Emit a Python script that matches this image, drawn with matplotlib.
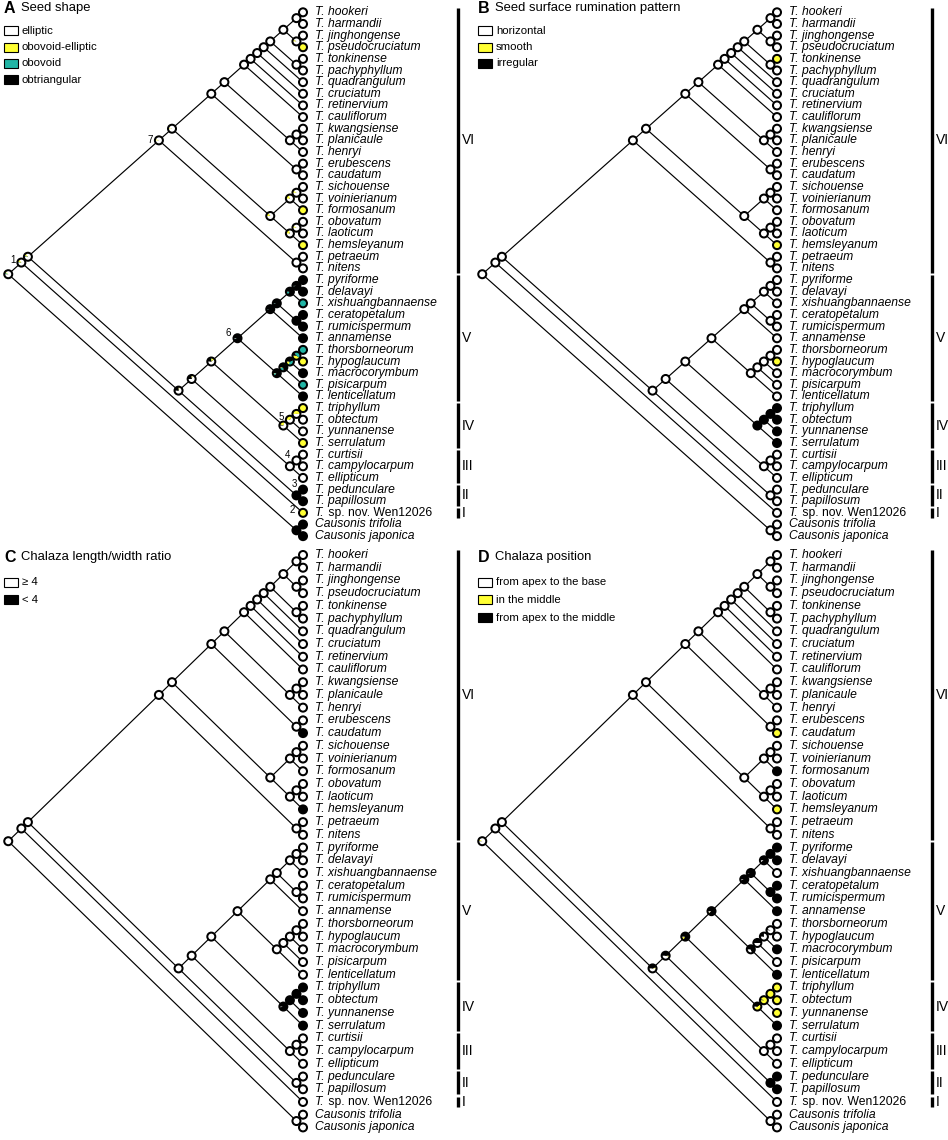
import matplotlib
matplotlib.use('Agg')
import matplotlib.pyplot as plt
from matplotlib.patches import Wedge, Circle, Rectangle
from matplotlib.transforms import ScaledTranslation

plt.rcParams['font.family'] = ['Liberation Sans', 'DejaVu Sans']

# tree topology (tips top to bottom), built up clade by clade
vi_core = (('hookeri', 'harmandii'), ('jinghongense', 'pseudocruciatum'))
vi_core = (vi_core, ('tonkinense', 'pachyphyllum'))
for sp in ['quadrangulum', 'cruciatum', 'retinervium', 'cauliflorum']:
    vi_core = (vi_core, sp)
vi_core = (vi_core, (('kwangsiense', 'planicaule'), 'henryi'))
vi_core = (vi_core, ('erubescens', 'caudatum'))
vi_core = (vi_core, ((('sichouense', 'voinierianum'), 'formosanum'),
                     (('obovatum', 'laoticum'), 'hemsleyanum')))
clade_VI = (vi_core, ('petraeum', 'nitens'))
v_upper = (((('pyriforme', 'delavayi'), 'xishuangbannaense'), ('ceratopetalum', 'rumicispermum')), 'annamense')
v_lower = (((('thorsborneorum', 'hypoglaucum'), 'macrocorymbum'), 'pisicarpum'), 'lenticellatum')
clade_V = (v_upper, v_lower)
clade_IV = ((('triphyllum', 'obtectum'), 'yunnanense'), 'serrulatum')
clade_III = (('curtisii', 'campylocarpum'), 'ellipticum')
clade_II = ('pedunculare', 'papillosum')
tree = (((clade_VI, (((clade_V, clade_IV), clade_III), clade_II)), 'wen'), ('trifolia', 'japonica'))

taxa = ['hookeri', 'harmandii', 'jinghongense', 'pseudocruciatum', 'tonkinense', 'pachyphyllum',
        'quadrangulum', 'cruciatum', 'retinervium', 'cauliflorum', 'kwangsiense', 'planicaule',
        'henryi', 'erubescens', 'caudatum', 'sichouense', 'voinierianum', 'formosanum', 'obovatum',
        'laoticum', 'hemsleyanum', 'petraeum', 'nitens', 'pyriforme', 'delavayi',
        'xishuangbannaense', 'ceratopetalum', 'rumicispermum', 'annamense', 'thorsborneorum',
        'hypoglaucum', 'macrocorymbum', 'pisicarpum', 'lenticellatum', 'triphyllum', 'obtectum',
        'yunnanense', 'serrulatum', 'curtisii', 'campylocarpum', 'ellipticum', 'pedunculare',
        'papillosum', 'wen', 'trifolia', 'japonica']
labels = ['T. ' + t for t in taxa[:43]] + ['T.', 'Causonis trifolia', 'Causonis japonica']
wen_suffix = ' sp. nov. Wen12026'   # upright part of the undescribed species label

clade_names = ['VI', 'V', 'IV', 'III', 'II', 'I']
clade_first = ['hookeri', 'pyriforme', 'triphyllum', 'curtisii', 'pedunculare', 'wen']
clade_last = ['nitens', 'lenticellatum', 'serrulatum', 'ellipticum', 'papillosum', 'wen']

yellow = '#FFFF33'
teal = '#21B5A5'

panel_letters = ['A', 'B', 'C', 'D']
panel_titles = ['Seed shape', 'Seed surface rumination pattern',
                'Chalaza length/width ratio', 'Chalaza position']
legend_A = ['elliptic', 'obovoid-elliptic', 'obovoid', 'obtriangular']
legend_B = ['horizontal', 'smooth', 'irregular']
legend_C = ['\u2265 4', '< 4']
legend_D = ['from apex to the base', 'in the middle', 'from apex to the middle']
colors_A = ['white', yellow, teal, 'black']
colors_B = ['white', yellow, 'black']
colors_C = ['white', 'black']
colors_D = ['white', yellow, 'black']

# tip states, same order as taxa
tips_A = [0, 0, 0, 1, 0, 0, 0, 0, 0, 0, 0, 0, 0, 0, 0, 0, 0, 1, 0, 0, 1, 0, 0,
          3, 3, 2, 3, 3, 3, 2, 1, 3, 2, 3,
          1, 0, 0, 1, 0, 0, 0, 3, 3, 1, 3, 3]
tips_B = [0, 0, 0, 0, 1, 0, 0, 0, 0, 0, 0, 0, 0, 0, 0, 0, 0, 0, 0, 0, 1, 0, 0,
          0, 0, 0, 0, 0, 0, 0, 1, 0, 0, 0,
          2, 2, 2, 2, 0, 0, 0, 0, 0, 0, 0, 0]
tips_C = [0, 0, 0, 0, 0, 0, 0, 0, 0, 0, 0, 0, 0, 0, 1, 0, 0, 0, 0, 0, 1, 0, 0,
          0, 0, 0, 0, 0, 0, 0, 0, 0, 0, 0,
          1, 1, 1, 1, 0, 0, 0, 0, 0, 0, 0, 0]
tips_D = [0, 0, 0, 0, 0, 0, 0, 0, 0, 0, 0, 0, 0, 0, 1, 0, 0, 2, 0, 0, 1, 0, 0,
          2, 2, 0, 2, 2, 2, 0, 0, 2, 0, 2,
          1, 1, 1, 2, 0, 0, 0, 2, 2, 0, 0, 0]

# ancestral state pies (nodes named by first and last tip); unlisted nodes are state 0
nodes_A = {
    ('hookeri', 'japonica'): [0.88, 0.06, 0.04, 0.02],
    ('hookeri', 'wen'): [0.85, 0.12, 0.02, 0.01],
    ('hookeri', 'papillosum'): [0.85, 0.10, 0.03, 0.02],
    ('hookeri', 'nitens'): [0.95, 0.05, 0, 0],
    ('hookeri', 'hemsleyanum'): [0.96, 0.04, 0, 0],
    ('sichouense', 'hemsleyanum'): [0.85, 0.15, 0, 0],
    ('sichouense', 'formosanum'): [0.8, 0.2, 0, 0],
    ('sichouense', 'voinierianum'): [0.9, 0.1, 0, 0],
    ('obovatum', 'hemsleyanum'): [0.8, 0.2, 0, 0],
    ('obovatum', 'laoticum'): [0.92, 0.08, 0, 0],
    ('jinghongense', 'pseudocruciatum'): [0.92, 0.08, 0, 0],
    ('pyriforme', 'papillosum'): [0.70, 0.05, 0, 0.25],
    ('pyriforme', 'ellipticum'): [0.70, 0.06, 0, 0.24],
    ('pyriforme', 'serrulatum'): [0.60, 0.15, 0.02, 0.23],
    ('pyriforme', 'lenticellatum'): [0.03, 0, 0.02, 0.95],
    ('pyriforme', 'annamense'): [0, 0, 0.02, 0.98],
    ('pyriforme', 'rumicispermum'): [0, 0, 0.03, 0.97],
    ('pyriforme', 'xishuangbannaense'): [0, 0, 0.15, 0.85],
    ('pyriforme', 'delavayi'): [0, 0, 0.03, 0.97],
    ('ceratopetalum', 'rumicispermum'): [0, 0, 0, 1],
    ('thorsborneorum', 'lenticellatum'): [0, 0.03, 0.10, 0.87],
    ('thorsborneorum', 'pisicarpum'): [0, 0.05, 0.20, 0.75],
    ('thorsborneorum', 'macrocorymbum'): [0, 0.20, 0.35, 0.45],
    ('thorsborneorum', 'hypoglaucum'): [0, 0.40, 0.45, 0.15],
    ('triphyllum', 'serrulatum'): [0.70, 0.25, 0, 0.05],
    ('triphyllum', 'yunnanense'): [0.65, 0.35, 0, 0],
    ('triphyllum', 'obtectum'): [0.5, 0.5, 0, 0],
    ('pedunculare', 'papillosum'): [0, 0, 0, 1],
    ('trifolia', 'japonica'): [0, 0, 0, 1],
}
nodes_B = {
    ('triphyllum', 'serrulatum'): [0, 0, 1],
    ('triphyllum', 'yunnanense'): [0, 0, 1],
    ('triphyllum', 'obtectum'): [0, 0, 1],
}
nodes_C = {
    ('triphyllum', 'serrulatum'): [0.04, 0.96],
    ('triphyllum', 'yunnanense'): [0, 1],
    ('triphyllum', 'obtectum'): [0, 1],
}
nodes_D = {
    ('hookeri', 'japonica'): [0.92, 0.06, 0.02],
    ('pyriforme', 'papillosum'): [0.50, 0.05, 0.45],
    ('pyriforme', 'ellipticum'): [0.45, 0.05, 0.50],
    ('pyriforme', 'serrulatum'): [0.05, 0.12, 0.83],
    ('pyriforme', 'lenticellatum'): [0.10, 0.02, 0.88],
    ('pyriforme', 'annamense'): [0.05, 0, 0.95],
    ('pyriforme', 'rumicispermum'): [0.02, 0, 0.98],
    ('pyriforme', 'xishuangbannaense'): [0.10, 0, 0.90],
    ('pyriforme', 'delavayi'): [0, 0, 1],
    ('ceratopetalum', 'rumicispermum'): [0, 0, 1],
    ('thorsborneorum', 'lenticellatum'): [0.30, 0, 0.70],
    ('thorsborneorum', 'pisicarpum'): [0.50, 0, 0.50],
    ('thorsborneorum', 'macrocorymbum'): [0.75, 0, 0.25],
    ('thorsborneorum', 'hypoglaucum'): [0.95, 0, 0.05],
    ('triphyllum', 'serrulatum'): [0.10, 0.50, 0.40],
    ('triphyllum', 'yunnanense'): [0, 0.95, 0.05],
    ('triphyllum', 'obtectum'): [0, 1, 0],
    ('pedunculare', 'papillosum'): [0, 0, 1],
}

node_numbers = ['1', '7', '6', '5', '4', '3', '2']
number_nodes = [('hookeri', 'wen'), ('hookeri', 'nitens'), ('pyriforme', 'lenticellatum'),
                ('triphyllum', 'serrulatum'), ('curtisii', 'ellipticum'),
                ('pedunculare', 'papillosum'), ('wen', 'wen')]
number_offsets = [(-6, 1.5), (-6.5, 0), (-6.5, 4), (-1.5, 6.5), (-1.5, 8), (-1.5, 8), (-7.5, 2)]


def tip_order(node):
    return [node] if isinstance(node, str) else [t for k in node for t in tip_order(k)]


order = tip_order(tree)
assert order == taxa, order
row = {t: i for i, t in enumerate(order)}

pos = {}
edges = []


def place(node):
    if isinstance(node, str):
        pos[(node, node)] = (0.0, float(row[node]))
        return (node, node)
    spans = [place(k) for k in node]
    key = (spans[0][0], spans[-1][1])
    top, bot = row[key[0]], row[key[1]]
    pos[key] = (-(bot - top) / 2.0, (top + bot) / 2.0)
    for s in spans:
        edges.append((key, s))
    return key


place(tree)

W, H = 948, 1140
fig = plt.figure(figsize=(W / 100, H / 100), dpi=100)

# px geometry: tips at x=303 in each half, 13.1 px per x unit
px_unit = 13.1
xlim = (-303 / px_unit, 171 / px_unit)
top_h, bot_h = 543, 597
panels = [
    dict(rect=(0, 0, 474, top_h), ylim=(45.59, -1.057), leg=legend_A, col=colors_A, tips=tips_A, nodes=nodes_A, sy=1.0),
    dict(rect=(474, 0, 474, top_h), ylim=(45.59, -1.057), leg=legend_B, col=colors_B, tips=tips_B, nodes=nodes_B, sy=1.0),
    dict(rect=(0, top_h, 474, bot_h), ylim=(45.99, -0.943), leg=legend_C, col=colors_C, tips=tips_C, nodes=nodes_C, sy=1.093),
    dict(rect=(474, top_h, 474, bot_h), ylim=(45.99, -0.943), leg=legend_D, col=colors_D, tips=tips_D, nodes=nodes_D, sy=1.093),
]


def draw_pie(ax, x, y, fracs, colors, r=0.04):
    tr = fig.dpi_scale_trans + ScaledTranslation(x, y, ax.transData)
    start = 180.0
    for f, c in zip(fracs, colors):
        if f <= 0:
            continue
        ax.add_patch(Wedge((0, 0), r, start, start + 360 * f, facecolor=c, edgecolor='none',
                           transform=tr, zorder=3, clip_on=False))
        start += 360 * f
    ax.add_patch(Circle((0, 0), r, facecolor='none', edgecolor='black', lw=1.45,
                        transform=tr, zorder=4, clip_on=False))


for i, p in enumerate(panels):
    x0, y0, w, h = p['rect']
    ax = fig.add_axes([x0 / W, 1 - (y0 + h) / H, w / W, h / H])
    ax.set_xlim(*xlim)
    ax.set_ylim(*p['ylim'])
    ax.axis('off')

    for parent, child in edges:
        (xa, ya), (xb, yb) = pos[parent], pos[child]
        ax.plot([xa, xb], [ya, yb], color='black', lw=0.85, zorder=1, solid_capstyle='round')

    ncol = len(p['col'])
    for key, (x, y) in pos.items():
        if key[0] == key[1]:
            fr = [0] * ncol
            fr[p['tips'][row[key[0]]]] = 1
        else:
            fr = p['nodes'].get(key, [1] + [0] * (ncol - 1))
        draw_pie(ax, x, y, fr, p['col'])

    for t, lab in zip(taxa, labels):
        txt = ax.annotate(lab, xy=(0, row[t]), xytext=(8.6, 0), textcoords='offset points',
                          ha='left', va='center', fontsize=8.7, style='italic')
        if t == 'wen':
            ax.annotate(wen_suffix, xy=(1, 0.5), xycoords=txt, ha='left', va='center',
                        fontsize=8.7)

    bar_x = 155 / px_unit
    for name, a, b in zip(clade_names, clade_first, clade_last):
        ax.plot([bar_x, bar_x], [row[a] - 0.4, row[b] + 0.4], color='black', lw=2.4,
                solid_capstyle='butt', zorder=2)
        ax.annotate(name, xy=(bar_x, (row[a] + row[b]) / 2), xytext=(2.5, 0),
                    textcoords='offset points', ha='left', va='center', fontsize=10)

    # title and legend (pixel offsets inside the panel)
    sy = p['sy']
    t_y = 8.5 if i < 2 else 14
    ax.text(4 / w, 1 - t_y / h, panel_letters[i], transform=ax.transAxes, fontsize=11.5,
            fontweight='bold', ha='left', va='center')
    ax.text(21 / w, 1 - t_y / h, panel_titles[i], transform=ax.transAxes, fontsize=9.4,
            ha='left', va='center')
    leg_y0 = 30.7 if i < 2 else 39
    leg_dy = 16.4 * sy
    for k, (lab, c) in enumerate(zip(p['leg'], p['col'])):
        yc = leg_y0 + k * leg_dy
        ax.add_patch(Rectangle((4 / w, 1 - (yc + 4.5) / h), 13.5 / w, 9 / h, transform=ax.transAxes,
                               facecolor=c, edgecolor='black', lw=0.8, clip_on=False))
        ax.text(22 / w, 1 - yc / h, lab, transform=ax.transAxes, fontsize=8.2, ha='left', va='center')

    if i == 0:
        for num, key, (ox, oy) in zip(node_numbers, number_nodes, number_offsets):
            ax.annotate(num, xy=pos[key], xytext=(ox, oy), textcoords='offset points',
                        ha='center', va='center', fontsize=7)

fig.savefig('out.png', dpi=100)
